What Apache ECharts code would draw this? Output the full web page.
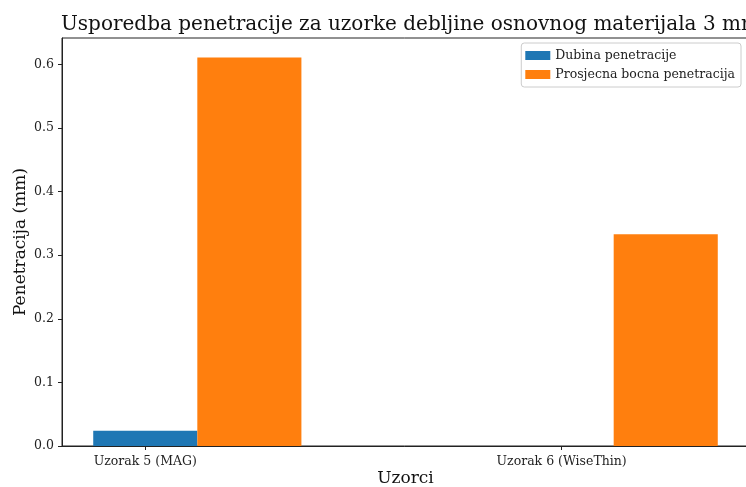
<!DOCTYPE html>
<html>
<head>
<meta charset="utf-8">
<script src="https://cdn.jsdelivr.net/npm/echarts@6/dist/echarts.min.js"></script>
<style>
  html, body { margin: 0; padding: 0; background: #fff; }
  #chart { width: 746px; height: 487px; }
</style>
</head>
<body>
<div id="chart"></div>
<script>
// Sample categories and measured penetration values (mm)
const categories = ['Uzorak 5 (MAG)', 'Uzorak 6 (WiseThin)'];
const seriesNames = ['Dubina penetracije', 'Prosjecna bocna penetracija'];
const dubina = [0.024, 0.0];
const bocna = [0.611, 0.333];
const yTicks = [0, 0.1, 0.2, 0.3, 0.4, 0.5, 0.6];

const barWidth = 0.25;           // bar width in x-axis units
const colors = ['#1f77b4', '#ff7f0e'];
const FONT = 'DejaVu Serif';

// Each group sits at its category index; the second bar is shifted by one bar width.
function barSeries(name, values, offset, color) {
  return {
    name: name,
    type: 'custom',
    itemStyle: { color: color },
    data: values.map((v, i) => [i + offset, v]),
    encode: { x: 0, y: 1 },
    renderItem: function (params, api) {
      const x = api.value(0), y = api.value(1);
      const p0 = api.coord([x - barWidth / 2, 0]);
      const p1 = api.coord([x + barWidth / 2, y]);
      return {
        type: 'rect',
        shape: { x: p0[0], y: p1[1], width: p1[0] - p0[0], height: p0[1] - p1[1] },
        style: { fill: color }
      };
    }
  };
}

const chart = echarts.init(document.getElementById('chart'), null, { renderer: 'canvas' });
chart.setOption({
  backgroundColor: '#ffffff',
  animation: false,
  title: {
    text: 'Usporedba penetracije za uzorke debljine osnovnog materijala 3 mm',
    left: 56, top: 10,
    textStyle: { fontFamily: FONT, fontSize: 20, fontWeight: 'normal', color: '#111' }
  },
  legend: {
    orient: 'vertical',
    right: 5, top: 43,
    itemWidth: 25, itemHeight: 9, itemGap: 6,
    icon: 'rect',
    padding: [6, 6, 6, 4],
    borderColor: '#cccccc', borderWidth: 1, borderRadius: 3,
    backgroundColor: '#fff',
    textStyle: { fontFamily: FONT, fontSize: 12.5, color: '#222' },
    data: seriesNames
  },
  grid: {
    left: 62, right: -3, top: 38, bottom: 41,
    outerBoundsMode: 'none',
    containLabel: false,
    show: true, borderColor: '#222', borderWidth: 1, backgroundColor: 'transparent'
  },
  xAxis: {
    type: 'value',
    min: -0.2, max: 1.45,
    name: 'Uzorci', nameLocation: 'middle', nameGap: 24,
    nameMoveOverlap: false,
    nameTextStyle: { fontFamily: FONT, fontSize: 17, color: '#111' },
    splitLine: { show: false },
    axisLine: { show: true, onZero: false, lineStyle: { color: '#222' } },
    axisTick: { show: true, length: 4, lineStyle: { color: '#222' }, customValues: [0, 1] },
    axisLabel: {
      fontFamily: FONT, fontSize: 12.5, color: '#222', margin: 9,
      customValues: [0, 1],
      formatter: v => categories[Math.round(v)]
    }
  },
  yAxis: {
    type: 'value',
    min: 0, max: 0.6416, interval: 0.1,
    name: 'Penetracija (mm)', nameLocation: 'middle', nameGap: 33,
    nameMoveOverlap: false,
    nameTextStyle: { fontFamily: FONT, fontSize: 17, color: '#111' },
    splitLine: { show: false },
    axisLine: { show: true, onZero: false, lineStyle: { color: '#222' } },
    axisTick: { show: true, length: 4, lineStyle: { color: '#222' }, customValues: yTicks },
    axisLabel: {
      fontFamily: FONT, fontSize: 12.5, color: '#222', margin: 8,
      customValues: yTicks,
      formatter: v => v.toFixed(1)
    }
  },
  series: [
    barSeries(seriesNames[0], dubina, 0, colors[0]),
    barSeries(seriesNames[1], bocna, barWidth, colors[1])
  ]
});
</script>
</body>
</html>
